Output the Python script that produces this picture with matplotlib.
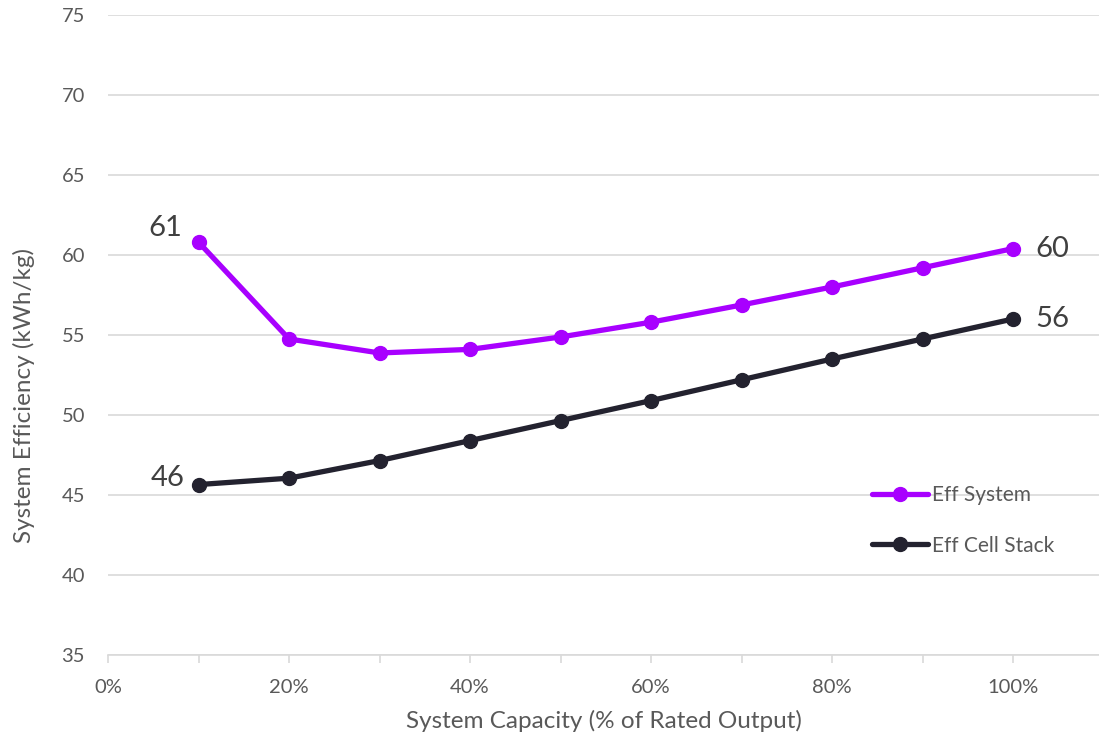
import matplotlib
matplotlib.use("Agg")
import matplotlib.pyplot as plt
from matplotlib.ticker import FixedLocator, PercentFormatter

plt.rcParams["font.family"] = ["Lato", "DejaVu Sans"]

# ---- data ----
capacity = [0.1, 0.2, 0.3, 0.4, 0.5, 0.6, 0.7, 0.8, 0.9, 1.0]
eff_system = [60.8, 54.75, 53.875, 54.1, 54.875, 55.8, 56.875, 58.0, 59.2, 60.4]
eff_stack = [45.65, 46.05, 47.15, 48.4, 49.65, 50.9, 52.2, 53.5, 54.75, 56.0]
series_names = ["Eff System", "Eff Cell Stack"]
colors = ["#A800FF", "#23222F"]

text_c = "#595959"
grid_c = "#D9D9D9"

fig = plt.figure(figsize=(10.99, 7.42), dpi=100)
ax = fig.add_axes([0.0983, 0.1173, 0.9026, 0.8625])

for vals, name, c in zip([eff_system, eff_stack], series_names, colors):
    ax.plot(capacity, vals, color=c, lw=3.8, marker="o", ms=10, label=name,
            solid_capstyle="round", zorder=3)

# end-point labels
lab_kw = dict(textcoords="offset points", fontsize=21, color="#404040", va="center")
ax.annotate(f"{eff_system[0]:.0f}", (capacity[0], eff_system[0]), xytext=(-12, 10), ha="right", **lab_kw)
ax.annotate(f"{eff_stack[0]:.0f}", (capacity[0], eff_stack[0]), xytext=(-10, 5), ha="right", **lab_kw)
ax.annotate(f"{eff_system[-1]:.0f}", (capacity[-1], eff_system[-1]), xytext=(16, 0), ha="left", **lab_kw)
ax.annotate(f"{eff_stack[-1]:.0f}", (capacity[-1], eff_stack[-1]), xytext=(16, 0), ha="left", **lab_kw)

ax.set_xlim(0, 1.096)
ax.set_ylim(35, 75)
ax.set_yticks(range(35, 80, 5))
ax.xaxis.set_major_locator(FixedLocator([0, 0.2, 0.4, 0.6, 0.8, 1.0]))
ax.xaxis.set_minor_locator(FixedLocator([0.1, 0.3, 0.5, 0.7, 0.9]))
ax.xaxis.set_major_formatter(PercentFormatter(1.0, decimals=0))

ax.grid(axis="y", color=grid_c, lw=1.2, zorder=0)
for s in ["top", "right", "left"]:
    ax.spines[s].set_visible(False)
ax.spines["bottom"].set_color(grid_c)
ax.spines["bottom"].set_linewidth(1.2)
ax.tick_params(axis="y", length=0, pad=16.5, labelsize=14.5, labelcolor=text_c)
ax.tick_params(axis="x", which="both", length=6, width=1.2, color=grid_c, pad=11,
               labelsize=14.5, labelcolor=text_c)

ax.set_xlabel("System Capacity (% of Rated Output)", fontsize=17.5, color=text_c, labelpad=10)
ax.set_ylabel("System Efficiency (kWh/kg)", fontsize=17.5, color=text_c)
ax.yaxis.set_label_coords(-0.074, 0.405)

leg = ax.legend(loc="upper left", bbox_to_anchor=(0.77, 0.265), frameon=False,
                fontsize=15, handlelength=2.7, handletextpad=0.2, labelspacing=1.45,
                borderpad=0, borderaxespad=0, labelcolor=text_c)

fig.savefig("out.png", dpi=100)
